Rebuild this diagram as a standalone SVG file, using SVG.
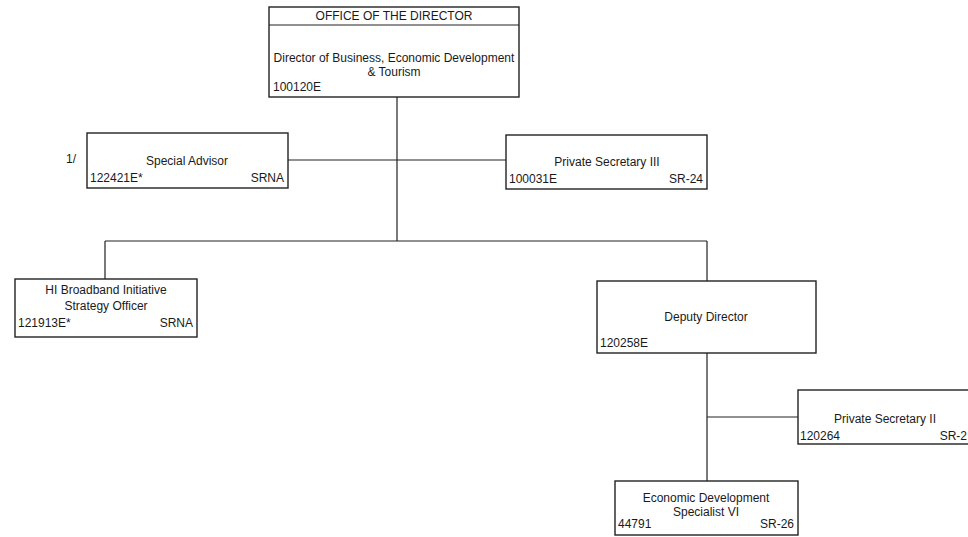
<svg xmlns="http://www.w3.org/2000/svg" width="968" height="537" viewBox="0 0 968 537">
<style>
.box{fill:#fff;stroke:#222;stroke-width:1.4}
.ln{stroke:#222;stroke-width:1.2;fill:none}
text{font-family:"Liberation Sans",Arial,sans-serif;font-size:12px;fill:#1a1a1a}
.c{text-anchor:middle}
.r{text-anchor:end}
</style>
<rect width="968" height="537" fill="#fff"/>
<g id="connectors">
<path class="ln" d="M397 97V241M105 241H707M105 241V279M707 241V281M288 160H507M707 353V481M707 417H798"/>
</g>
<g id="director">
<rect class="box" x="269" y="7" width="250" height="90"/>
<line class="ln" x1="269" y1="25" x2="519" y2="25"/>
<text class="c" x="394" y="20">OFFICE OF THE DIRECTOR</text>
<text class="c" x="394" y="62">Director of Business, Economic Development</text>
<text class="c" x="394" y="76">&amp; Tourism</text>
<text x="273" y="91">100120E</text>
</g>
<g id="special-advisor">
<text x="66" y="163">1/</text>
<rect class="box" x="87" y="133" width="201" height="55"/>
<text class="c" x="187" y="165">Special Advisor</text>
<text x="90" y="182">122421E*</text>
<text class="r" x="284" y="182">SRNA</text>
</g>
<g id="private-secretary-iii">
<rect class="box" x="506" y="135" width="201" height="54"/>
<text class="c" x="607" y="166">Private Secretary III</text>
<text x="509" y="183">100031E</text>
<text class="r" x="703" y="183">SR-24</text>
</g>
<g id="broadband">
<rect class="box" x="15" y="279" width="182" height="58"/>
<text class="c" x="106" y="294">HI Broadband Initiative</text>
<text class="c" x="106" y="310">Strategy Officer</text>
<text x="18" y="327">121913E*</text>
<text class="r" x="193" y="327">SRNA</text>
</g>
<g id="deputy-director">
<rect class="box" x="597" y="281" width="219" height="72"/>
<text class="c" x="706" y="321">Deputy Director</text>
<text x="600" y="347">120258E</text>
</g>
<g id="private-secretary-ii">
<rect class="box" x="798" y="390" width="180" height="54"/>
<text class="c" x="885" y="423">Private Secretary II</text>
<text x="800" y="440">120264</text>
<text class="r" x="967" y="440">SR-2</text>
</g>
<g id="econ-dev">
<rect class="box" x="615" y="481" width="183" height="54"/>
<text class="c" x="706" y="502">Economic Development</text>
<text class="c" x="706" y="516">Specialist VI</text>
<text x="618" y="528">44791</text>
<text class="r" x="794" y="528">SR-26</text>
</g>
</svg>
